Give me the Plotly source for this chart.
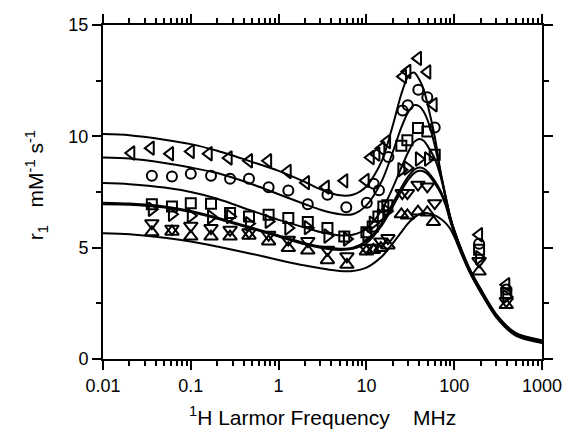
import plotly.graph_objects as go

# ---------------- data ----------------
# fitted curves
curve_freq = [0.01, 0.02, 0.05, 0.1, 0.2, 0.5, 1, 2, 3, 5, 7, 10, 15, 20, 25, 30, 35,
              40, 45, 50, 60, 70, 80, 90, 100, 120, 150, 200, 300, 500, 1000]
curve_A = [10.1, 10.05, 9.85, 9.65, 9.35, 8.85, 8.45, 7.95, 7.62, 7.35, 7.38, 7.75, 8.9, 10.5,
           11.9, 12.7, 12.87, 12.55, 12.1, 11.4, 10.0, 8.4, 7.3, 6.4, 5.8, 4.95, 4.05, 3.15,
           2.02, 1.17, 0.84]
curve_B = [9.05, 9.0, 8.8, 8.6, 8.35, 7.85, 7.4, 6.95, 6.7, 6.5, 6.5, 6.9, 8.0, 9.3, 10.4,
           11.1, 11.4, 11.35, 11.1, 10.7, 9.6, 8.35, 7.28, 6.38, 5.78, 4.93, 4.03, 3.13, 2.0,
           1.15, 0.81]
curve_C = [7.9, 7.85, 7.7, 7.5, 7.2, 6.65, 6.25, 5.9, 5.7, 5.55, 5.58, 5.85, 6.7, 7.7, 8.6,
           9.3, 9.75, 9.88, 9.8, 9.55, 9.0, 8.2, 7.22, 6.35, 5.75, 4.9, 4.0, 3.1, 1.98, 1.13,
           0.78]
curve_D = [7.02, 6.98, 6.85, 6.65, 6.35, 5.9, 5.55, 5.2, 5.05, 4.95, 5.0, 5.3, 6.1, 7.0, 7.7,
           8.2, 8.5, 8.6, 8.55, 8.4, 8.0, 7.55, 7.0, 6.25, 5.7, 4.85, 3.95, 3.05, 1.95, 1.1,
           0.76]
curve_E = [6.95, 6.93, 6.8, 6.6, 6.3, 5.85, 5.5, 5.15, 5.0, 4.9, 4.95, 5.2, 6.0, 6.85, 7.55,
           8.05, 8.35, 8.45, 8.42, 8.3, 7.9, 7.45, 6.9, 6.2, 5.65, 4.8, 3.9, 3.0, 1.92, 1.08,
           0.74]
curve_F = [5.65, 5.6, 5.45, 5.28, 5.05, 4.72, 4.45, 4.2, 4.08, 3.95, 3.95, 4.1, 4.6, 5.2, 5.7,
           6.1, 6.35, 6.5, 6.56, 6.55, 6.45, 6.3, 6.1, 5.85, 5.5, 4.75, 3.9, 3.0, 1.88, 1.05,
           0.72]

# measured points
ltri_x = [0.021, 0.035, 0.058, 0.1, 0.16, 0.27, 0.46, 0.76, 1.27, 2.05, 3.45, 5.6, 9.8,
          11.2, 13.0, 14.8, 17.2, 26.1, 29.3, 38.7, 49.4, 58.3, 192, 392]
ltri_y = [9.25, 9.47, 9.22, 9.32, 9.22, 9.03, 8.9, 8.9, 8.42, 7.92, 7.72, 8.0, 8.02,
          9.05, 9.2, 9.45, 9.77, 12.69, 12.91, 13.5, 12.89, 11.42, 5.58, 3.34]

circ_x = [0.036, 0.061, 0.1, 0.17, 0.28, 0.46, 0.77, 1.29, 2.15, 3.6, 5.9, 10.1, 12.1,
          13.9, 17.8, 25.8, 29.6, 39, 49.4, 60, 192, 392]
circ_y = [8.23, 8.2, 8.32, 8.23, 8.1, 8.1, 7.71, 7.57, 6.95, 7.38, 6.82, 7.02, 7.87,
          7.58, 9.07, 11.16, 11.4, 12.09, 11.76, 10.4, 5.18, 3.12]

sq_x = [0.036, 0.061, 0.1, 0.17, 0.28, 0.46, 0.77, 1.29, 2.15, 3.6, 5.6, 10, 11.8, 13.7,
        15.6, 17.3, 25, 29.3, 38.7, 49.4, 60, 192, 392]
sq_y = [6.95, 6.85, 7.0, 6.97, 6.56, 6.4, 6.48, 6.33, 6.15, 5.88, 5.5, 5.69, 5.95, 6.4,
        6.85, 6.9, 9.58, 9.82, 10.37, 10.22, 9.17, 4.91, 2.95]

rtri_x = [0.036, 0.061, 0.1, 0.17, 0.28, 0.46, 0.77, 1.29, 2.15, 3.6, 6.0, 10, 11.8, 14.6,
          17.1, 25, 29.3, 39.6, 50.3, 192, 392]
rtri_y = [6.72, 6.5, 6.43, 6.38, 6.4, 6.08, 6.18, 5.88, 5.9, 5.52, 5.39, 5.58, 6.1, 6.43,
          6.63, 8.5, 8.58, 8.98, 8.98, 4.55, 2.8]

dtri_x = [0.036, 0.061, 0.1, 0.17, 0.28, 0.46, 0.77, 1.29, 2.15, 3.6, 6.0, 10, 12, 14.6,
          17.6, 25.6, 29.3, 38.7, 49.4, 60, 192, 392]
dtri_y = [6.1, 5.85, 5.98, 5.88, 5.8, 5.69, 5.58, 5.36, 5.3, 4.91, 4.61, 4.98, 5.0, 5.28,
          5.43, 7.45, 7.45, 7.83, 7.75, 7.0, 4.4, 2.6]

utri_x = [0.036, 0.061, 0.1, 0.17, 0.28, 0.46, 0.77, 1.29, 2.15, 3.6, 6.0, 10, 12, 14.6,
          17.6, 25, 29.3, 38.7, 49.4, 58, 192, 392]
utri_y = [5.69, 5.72, 5.5, 5.5, 5.5, 5.54, 5.28, 4.98, 4.87, 4.44, 4.23, 4.83, 4.9, 4.98,
          5.1, 6.5, 6.45, 6.62, 6.58, 6.15, 3.93, 2.42]

x_major = [0.01, 0.1, 1, 10, 100, 1000]
x_labels = ["0.01", "0.1", "1", "10", "100", "1000"]
x_minor = [m * d for d in [0.01, 0.1, 1, 10, 100] for m in range(2, 10)]
y_major = [0, 5, 10, 15]
y_minor = [2.5, 7.5, 12.5]

# ---------------- figure ----------------
fig = go.Figure()

for cy in [curve_A, curve_B, curve_C, curve_D, curve_E, curve_F]:
    fig.add_trace(go.Scatter(x=curve_freq, y=cy, mode="lines",
                             line=dict(color="black", width=2, shape="spline", smoothing=0.8),
                             hoverinfo="skip", showlegend=False))

series = [
    (ltri_x, ltri_y, "triangle-left-open", 12),
    (circ_x, circ_y, "circle-open", 10),
    (sq_x, sq_y, "square-open", 10),
    (rtri_x, rtri_y, "triangle-right-open", 12),
    (dtri_x, dtri_y, "triangle-down-open", 12),
    (utri_x, utri_y, "triangle-up-open", 12),
]
for sx, sy, sym, sz in series:
    fig.add_trace(go.Scatter(x=sx, y=sy, mode="markers",
                             marker=dict(symbol=sym, size=sz, color="black",
                                         line=dict(color="black", width=2)),
                             showlegend=False))

font_family = "Liberation Sans, Arial, sans-serif"

fig.update_layout(
    width=574, height=435,
    margin=dict(l=103, r=21, t=25, b=76),
    paper_bgcolor="white", plot_bgcolor="white",
    font=dict(family=font_family, size=18, color="black"),
    showlegend=False,
)
fig.update_xaxes(
    type="log", range=[-2, 3],
    tickmode="array", tickvals=x_major, ticktext=x_labels,
    ticks="outside", ticklen=9, tickwidth=1.5, tickcolor="black",
    showline=True, linecolor="black", linewidth=2, mirror="ticks",
    showgrid=False, zeroline=False,
    tickfont=dict(size=18, family=font_family),
    minor=dict(tickmode="array", tickvals=x_minor, ticks="outside", ticklen=5,
               tickwidth=1.5, tickcolor="black", showgrid=False),
)
fig.update_yaxes(
    range=[0, 15],
    tickmode="array", tickvals=y_major, ticktext=[str(v) for v in y_major],
    ticks="outside", ticklen=9, tickwidth=1.5, tickcolor="black",
    showline=True, linecolor="black", linewidth=2, mirror="ticks",
    showgrid=False, zeroline=False,
    tickfont=dict(size=18, family=font_family),
    minor=dict(tickmode="array", tickvals=y_minor, ticks="outside", ticklen=5,
               tickwidth=1.5, tickcolor="black", showgrid=False),
)

fig.add_annotation(
    text="<sup>1</sup>H Larmor Frequency\u00a0\u00a0\u00a0\u00a0MHz",
    xref="paper", yref="paper", x=0.5, y=-0.17, xanchor="center", yanchor="middle",
    showarrow=False, font=dict(size=21, family=font_family, color="black"),
)
fig.add_annotation(
    text="r<sub>1</sub>\u00a0\u00a0\u00a0mM<sup>-1</sup> s<sup>-1</sup>",
    xref="paper", yref="paper", x=-0.153, y=0.52, xanchor="center", yanchor="middle",
    textangle=-90, showarrow=False,
    font=dict(size=21, family=font_family, color="black"),
)

fig.write_html("out.html",
               config={"displayModeBar": False},
               post_script="document.body.style.margin='0';document.body.style.padding='0';")
